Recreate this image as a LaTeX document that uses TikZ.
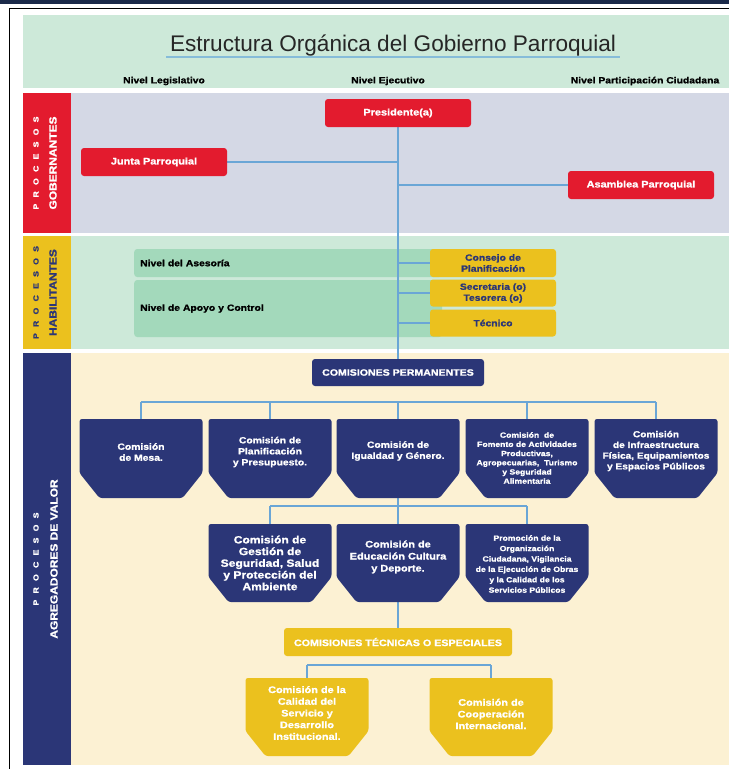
\documentclass[tikz,border=0pt]{standalone}
\usepackage{fontspec}
\setmainfont{Liberation Sans}
\newfontfamily\heavy{Liberation Sans}[FakeStretch=1.15, FakeBold=1.2]
\usetikzlibrary{positioning}
\pgfdeclarelayer{fondo}
\pgfdeclarelayer{lineas}
\pgfsetlayers{fondo,lineas,main}

\definecolor{rojo}{HTML}{E31B2E}
\definecolor{gris}{HTML}{D4D8E5}
\definecolor{verdeclaro}{HTML}{CDE9D9}
\definecolor{verde}{HTML}{A3D9BB}
\definecolor{amarillo}{HTML}{EBC11E}
\definecolor{azul}{HTML}{2B3677}
\definecolor{crema}{HTML}{FCF1D3}
\definecolor{linea}{HTML}{6AA6D6}
\definecolor{subraya}{HTML}{86BCD9}
\definecolor{marco}{HTML}{1B2A4A}

% letras separadas del rotulo lateral
\newcommand\procesos{P\hspace{6.3pt}R\hspace{6.3pt}O\hspace{6.3pt}C\hspace{6.3pt}E\hspace{6.3pt}S\hspace{6.3pt}O\hspace{6.3pt}S}
% caja con esquinas inferiores cortadas: centro x, arriba, abajo, color
\newcommand\cortada[4]{\fill[#4, rounded corners=2.5pt] (#1-61.5,#2) -- (#1+61.5,#2) -- (#1+61.5,#3-25) -- (#1+41.5,#3) -- (#1-41.5,#3) -- (#1-61.5,#3-25) -- cycle;}

\tikzset{
  fs/.style 2 args={font=\heavy\bfseries\fontsize{#1}{#2}\selectfont},
  conn/.style={draw=linea, line width=1.5pt},
  caja/.style={rounded corners=3pt, align=center, inner sep=0pt},
  roja/.style={caja, fill=rojo, text=white, minimum width=146pt, minimum height=28pt, fs={9.5}{11}},
  amar/.style={caja, fill=amarillo, text=azul, minimum width=126pt, minimum height=27pt, fs={9}{11}},
  verdebox/.style={caja, fill=verde, text=black, anchor=west, text width=296pt, inner xsep=6pt, align=left, fs={9}{11}},
  marino/.style={caja, fill=azul, text=white, minimum height=27pt, fs={9.2}{11}},
  com/.style={align=center, text=white, inner sep=0pt},
  procs/.style={rotate=90, fs={7.5}{9}},
  lado/.style={rotate=90, fs={10.4}{12}},
}

\begin{document}
\begin{tikzpicture}[x=1pt,y=-1pt]
\useasboundingbox (0,0) rectangle (729,769);
\begin{pgfonlayer}{fondo}
\fill[white] (0,0) rectangle (729,769);
\fill[marco] (0,0) rectangle (729,3.5);
\draw[line width=1.2pt] (9.5,769) -- (9.5,8.5) -- (729,8.5);
% franjas
\fill[verdeclaro] (22.5,15) rectangle (729,88);
\fill[rojo] (22.5,93) rectangle (71,233);
\fill[gris] (71,93) rectangle (729,233);
\fill[amarillo] (22.5,236) rectangle (71,349);
\fill[verdeclaro] (71,236) rectangle (729,349);
\fill[azul] (22.5,353) rectangle (71,765);
\fill[crema] (71,353) rectangle (729,765);
\node[verdebox, minimum height=28pt] (asesoria) at (134,263) {Nivel del Asesoría};
\node[verdebox, minimum height=57pt] (apoyo) at (134,308.5) {Nivel de Apoyo y Control};
\end{pgfonlayer}

% titulo
\node[font=\fontsize{22.6}{27}\selectfont, text=black!85, anchor=base] (titulo) at (393,51) {Estructura Orgánica del Gobierno Parroquial};
\draw[subraya, line width=1.3pt] ([yshift=-6pt]titulo.base west) -- ([yshift=-6pt]titulo.base east);
\node[fs={9}{11}] (legis) at (164,81) {Nivel Legislativo};
\node[fs={9}{11}] (ejec) at (388,81) {Nivel Ejecutivo};
\node[fs={9}{11}] (partic) at (645,81) {Nivel Participación Ciudadana};

% rotulos laterales
\node[procs, text=white] (procA) at (36,163) {\procesos};
\node[lado, text=white] (gober) at (53,163) {GOBERNANTES};
\node[procs, text=azul] (procB) at (36,292.5) {\procesos};
\node[lado, text=azul] (habil) at (53,292.5) {HABILITANTES};
\node[procs, text=white] (procC) at (36,559) {\procesos};
\node[lado, text=white] (agreg) at (54,559) {AGREGADORES DE VALOR};

% procesos gobernantes
\node[roja] (pres) at (398,113) {Presidente(a)};
\node[roja] (junta) at (154,162) {Junta Parroquial};
\node[roja] (asamblea) at (641,185) {Asamblea Parroquial};

% procesos habilitantes
\node[amar, minimum height=28pt] (consejo) at (493,263) {Consejo de\\Planificación};
\node[amar] (secre) at (493,293) {Secretaria (o)\\Tesorera (o)};
\node[amar] (tecnico) at (493,323) {Técnico};

% procesos agregadores de valor
\node[marino, minimum width=172pt] (perm) at (398,372.5) {COMISIONES PERMANENTES};
\foreach \cx/\nm/\yt/\tam/\bs/\txt in {
  141/mesa/452/9/11/{Comisión\\de Mesa.},
  270/plan/452/9/11/{Comisión de\\Planificación\\y Presupuesto.},
  398/igual/451/9/11/{Comisión de\\Igualdad y Género.},
  527/fomento/458/7.5/9.2/{Comisión~ de\\Fomento de Actividades\\Productivas,\\Agropecuarias,~ Turismo\\y Seguridad\\Alimentaria},
  656/infra/451/8.8/10.7/{Comisión\\de Infraestructura\\Física, Equipamientos\\y Espacios Públicos}}
{
\cortada{\cx}{419}{498}{azul}
\node[com, fs={\tam}{\bs}] (\nm) at (\cx,\yt) {\txt};
}
\foreach \cx/\nm/\yt/\tam/\bs/\txt in {
  270/gestion/563/10.5/11.7/{Comisión de\\Gestión de\\Seguridad, Salud\\y Protección del\\Ambiente},
  398/educ/557/9.5/12/{Comisión de\\Educación Cultura\\y Deporte.},
  527/promo/564/7.5/10.4/{Promoción de la\\Organización\\Ciudadana, Vigilancia\\de la Ejecución de Obras\\y la Calidad de los\\Servicios Públicos}}
{
\cortada{\cx}{524}{602}{azul}
\node[com, fs={\tam}{\bs}] (\nm) at (\cx,\yt) {\txt};
}
\node[caja, fill=amarillo, text=white, minimum width=228pt, minimum height=28pt, fs={9.3}{11}] (tecn) at (398,642) {COMISIONES TÉCNICAS O ESPECIALES};
\foreach \cx/\nm/\yt/\txt in {
  307/calidad/713/{Comisión de la\\Calidad del\\Servicio y\\Desarrollo\\Institucional.},
  491/coop/714/{Comisión de\\Cooperación\\Internacional.}}
{
\cortada{\cx}{678}{756}{amarillo}
\node[com, fs={9.5}{11.7}] (\nm) at (\cx,\yt) {\txt};
}

% conectores
\begin{pgfonlayer}{lineas}
\draw[conn] (pres) -- (perm);
\draw[conn] (junta) -- (junta -| pres);
\draw[conn] (asamblea) -- (asamblea -| pres);
\foreach \n in {consejo,secre,tecnico}
  \draw[conn] (\n) -- (\n -| pres);
\coordinate (bus1) at (398,402);
\draw[conn] (bus1 -| mesa) -- (bus1 -| infra);
\foreach \n in {mesa,plan,igual,fomento,infra}
  \draw[conn] (bus1 -| \n) -- (\n);
\coordinate (bus2) at (398,506);
\draw[conn] (igual) -- (educ);
\draw[conn] (bus2 -| gestion) -- (bus2 -| promo);
\foreach \n in {gestion,educ,promo}
  \draw[conn] (bus2 -| \n) -- (\n);
\draw[conn] (educ) -- (tecn);
\coordinate (bus3) at (398,665);
\draw[conn] (bus3 -| calidad) -- (bus3 -| coop);
\foreach \n in {calidad,coop}
  \draw[conn] (bus3 -| \n) -- (\n);
\end{pgfonlayer}
\end{tikzpicture}
\end{document}
